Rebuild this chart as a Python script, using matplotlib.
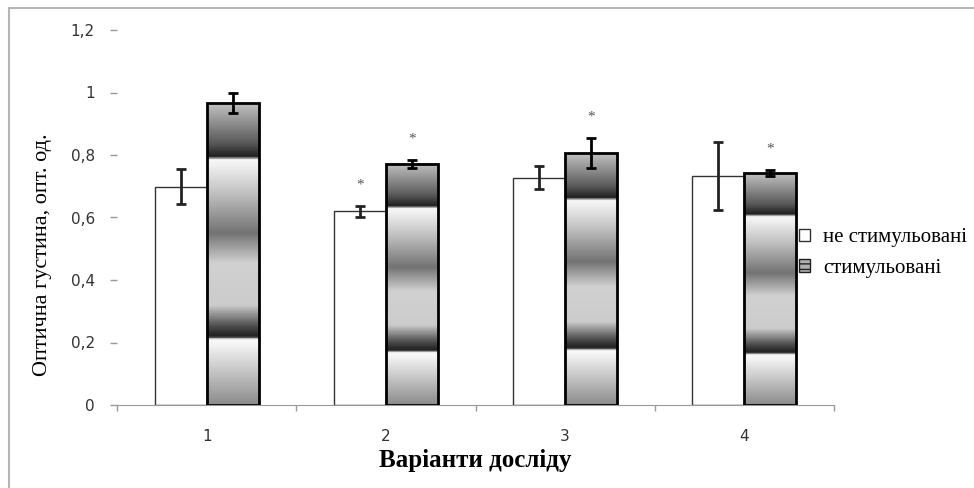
import numpy as np
import matplotlib.pyplot as plt
from matplotlib.colors import LinearSegmentedColormap
from matplotlib.patches import Patch, Rectangle

variants = ["1", "2", "3", "4"]
plain = [0.698, 0.620, 0.728, 0.733]
plain_err = [0.056, 0.018, 0.038, 0.110]
stim = [0.966, 0.772, 0.806, 0.742]
stim_err = [0.033, 0.013, 0.048, 0.010]
plain_star = [False, True, False, False]
stim_star = [False, True, True, True]

# vertical grey banding of the "stimulated" bars (position, grey level)
band = [(0.0, 0.55), (0.20, 0.96), (0.215, 0.98), (0.225, 0.12), (0.26, 0.30),
        (0.33, 0.80), (0.47, 0.82), (0.57, 0.45), (0.70, 0.75), (0.80, 0.95),
        (0.815, 0.97), (0.825, 0.12), (0.87, 0.35), (0.95, 0.60), (1.0, 0.75)]
cmap = LinearSegmentedColormap.from_list("band", [(p, (g, g, g)) for p, g in band])

plt.rcParams['font.family'] = ['DejaVu Sans']
serif = 'Liberation Serif'

W, H = 974, 488
fig = plt.figure(figsize=(W / 100, H / 100), dpi=100)
fig.patches.append(Rectangle((9 / W, -0.1), 1.2, 1.1 - 8 / H, transform=fig.transFigure,
                             fill=False, edgecolor='#b5b5b5', lw=1.5))
ax = fig.add_axes([117 / W, 83 / H, 717 / W, 375 / H])

x = np.arange(len(variants))
w = 0.29
xp = x - w / 2
xs = x + w / 2

ax.bar(xp, plain, w, color='white', edgecolor='#333333', lw=1.0, zorder=2)
grad = np.linspace(0, 1, 400).reshape(-1, 1)
for xi, h in zip(xs, stim):
    ax.imshow(grad, cmap=cmap, origin='lower', aspect='auto', interpolation='bilinear',
              extent=[xi - w / 2, xi + w / 2, 0, h], zorder=2)
ax.bar(xs, stim, w, facecolor='none', edgecolor='black', lw=2.0, zorder=3)

ax.errorbar(xp, plain, yerr=plain_err, fmt='none', ecolor='#222222', elinewidth=2,
            capsize=3.6, capthick=2, zorder=4)
ax.errorbar(xs, stim, yerr=stim_err, fmt='none', ecolor='black', elinewidth=2,
            capsize=3.6, capthick=2, zorder=4)

for xx, vals, errs, stars in [(xp, plain, plain_err, plain_star), (xs, stim, stim_err, stim_star)]:
    for xi, v, e, s in zip(xx, vals, errs, stars):
        if s:
            ax.annotate('*', (xi, v + e), xytext=(0, 15), textcoords='offset points',
                        ha='center', va='center', fontsize=11, color='#555555',
                        family=serif)

ax.set_xlim(-0.5, len(variants) - 0.5)
ax.set_ylim(0, 1.2)
ax.set_yticks(np.arange(0, 1.21, 0.2))
ax.set_yticklabels(['0', '0,2', '0,4', '0,6', '0,8', '1', '1,2'])
ax.set_xticks(x)
ax.set_xticklabels(variants)
ax.set_xticks(np.arange(-0.5, len(variants), 1), minor=True)
ax.tick_params(axis='y', length=5, width=1, color='#999999', pad=11, labelsize=11,
               labelcolor='#333333')
ax.tick_params(axis='x', which='major', length=0, pad=17, labelsize=11, labelcolor='#333333')
ax.tick_params(axis='x', which='minor', length=4, width=1, color='#999999')
for sp in ['top', 'right', 'left']:
    ax.spines[sp].set_visible(False)
ax.spines['bottom'].set_color('#999999')

ax.set_ylabel('Оптична густина, опт. од.', family=serif, fontsize=16)
ax.yaxis.set_label_coords(-0.104, 0.40)
ax.yaxis.label.set_va('center')
ax.set_xlabel('Варіанти досліду', family=serif, fontsize=18, fontweight='bold')
ax.xaxis.set_label_coords(0.5, -0.147)
ax.xaxis.label.set_va('center')

handles = [Patch(facecolor='white', edgecolor='#333333', lw=1),
           Patch(facecolor='#b0b0b0', edgecolor='#222222', hatch='---', lw=1)]
ax.legend(handles, ['не стимульовані', 'стимульовані'], loc='center left',
          bbox_to_anchor=(0.951, 0.405), frameon=False, prop={'family': serif, 'size': 15},
          handlelength=0.55, handleheight=0.55, handletextpad=0.6, labelspacing=0.55,
          borderaxespad=0, borderpad=0)

fig.savefig('out.png', dpi=100)
